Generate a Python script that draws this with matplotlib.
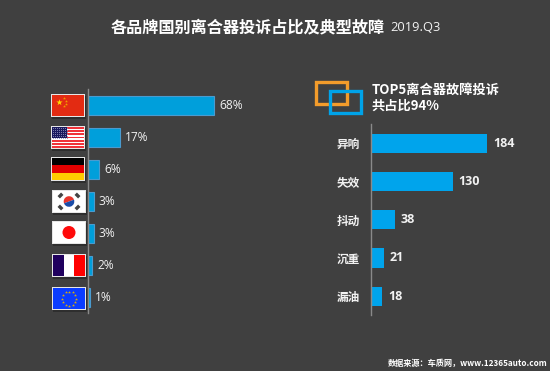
import numpy as np
import matplotlib
matplotlib.use("Agg")
import matplotlib.pyplot as plt
from matplotlib.patches import Rectangle, Circle, Wedge

plt.rcParams["font.family"] = ["Noto Sans CJK SC", "DejaVu Sans"]

W, H = 550, 371
BG = "#404040"
BLUE = "#00A3E9"
ORANGE = "#F39C2B"
LIGHT = "#F2F2F2"
AXIS = "#8A8A8A"

countries = ["China", "USA", "Germany", "Korea", "Japan", "France", "EU"]
shares = [68, 17, 6, 3, 3, 2, 1]
faults = ["异响", "失效", "抖动", "沉重", "漏油"]
fault_counts = [184, 130, 38, 21, 18]


def px_axes(fig, x0, y0, x1, y1):
    # pixel box measured from the top left
    return fig.add_axes([x0 / W, 1 - y1 / H, (x1 - x0) / W, (y1 - y0) / H])


def clean(ax):
    ax.patch.set_alpha(0)
    for s in ("top", "right", "bottom"):
        ax.spines[s].set_visible(False)
    ax.spines["left"].set_color(AXIS)
    ax.spines["left"].set_linewidth(1)
    ax.set_xticks([])
    ax.tick_params(axis="y", length=0)


def flag_china(ax, x, y, w, h):
    ax.add_patch(Rectangle((x, y), w, h, color="#E32B12", lw=0, zorder=3))
    ax.scatter([x + 6.5], [y + 6.5], marker="*", s=22, color="#FFD800", lw=0, zorder=4)
    for dx, dy in [(12, 3), (13.5, 5.5), (13.5, 8.5), (12, 11)]:
        ax.scatter([x + dx], [y + dy], marker="*", s=5, color="#F0A000", lw=0, zorder=4)


def flag_usa(ax, x, y, w, h):
    ax.add_patch(Rectangle((x, y), w, h, color="white", lw=0, zorder=3))
    for i in range(0, 13, 2):
        ax.add_patch(Rectangle((x, y + i * h / 13), w, h / 13, color="#F0333A", lw=0, zorder=4))
    ax.add_patch(Rectangle((x, y), w * 0.48, h * 0.54, color="#1A1A5E", lw=0, zorder=5))
    xs, ys = np.meshgrid(np.arange(x + 1, x + w * 0.48, 2), np.arange(y + 1, y + h * 0.54, 2))
    ax.scatter(xs.ravel(), ys.ravel(), s=0.6, color="#8C8CB8", lw=0, zorder=6)


def flag_germany(ax, x, y, w, h):
    for i, c in enumerate(["black", "#E00000", "#FFCC00"]):
        ax.add_patch(Rectangle((x, y + i * h / 3), w, h / 3, color=c, lw=0, zorder=3))


def flag_korea(ax, x, y, w, h):
    ax.add_patch(Rectangle((x, y), w, h, color="white", lw=0, zorder=3))
    cx, cy = x + w / 2, y + h / 2
    ax.add_patch(Wedge((cx, cy), 5.3, 160, 340, color="#E8342C", lw=0, zorder=4))
    ax.add_patch(Wedge((cx, cy), 5.3, 340, 160, color="#1A4CA8", lw=0, zorder=4))
    for dx, dy in [(-8.5, -6), (8.5, -6), (-8.5, 6), (8.5, 6)]:
        ang = 45 if dx * dy < 0 else -45
        ax.add_patch(Rectangle((cx + dx - 2.5, cy + dy - 1.7), 5, 3.4, color="#444444", lw=0,
                               angle=ang, rotation_point="center", zorder=4))


def flag_japan(ax, x, y, w, h):
    ax.add_patch(Rectangle((x, y), w, h, color="white", lw=0, zorder=3))
    ax.add_patch(Circle((x + w / 2, y + h / 2), 6.5, color="#FF0A0A", lw=0, zorder=4))


def flag_france(ax, x, y, w, h):
    for i, c in enumerate(["#20005E", "white", "#FF0000"]):
        ax.add_patch(Rectangle((x + i * w / 3, y), w / 3, h, color=c, lw=0, zorder=3))


def flag_eu(ax, x, y, w, h):
    ax.add_patch(Rectangle((x, y), w, h, color="#0A3CFF", lw=0, zorder=3))
    a = np.arange(12) * np.pi / 6
    ax.scatter(x + w / 2 + 7 * np.cos(a), y + h / 2 + 7 * np.sin(a), marker="*", s=5,
               color="#E0B000", lw=0, zorder=4)


flag_boxes = [(51, 94, 34, 23), (51, 126, 34, 23), (51, 157, 34, 24), (52, 190, 34, 23),
              (52, 221, 34, 23), (52, 254, 34, 23), (52, 287, 34, 23)]
flag_funcs = [flag_china, flag_usa, flag_germany, flag_korea, flag_japan, flag_france, flag_eu]

fig = plt.figure(figsize=(W / 100, H / 100), dpi=100, facecolor=BG)

# left bars: share by country
ax_l = px_axes(fig, 88, 89, 88 + 1.853 * 100, 313)
ax_l.barh(range(len(shares)), shares, height=0.6, color="#009FDB", edgecolor="#4A9BCF", linewidth=0.8)
ax_l.set_xlim(0, 100)
ax_l.set_ylim(6.49, -0.53)
ax_l.set_yticks([])
clean(ax_l)
for i, v in enumerate(shares):
    ax_l.annotate(f"{v}%", (v, i), xytext=(3.8, 0), textcoords="offset points", va="center",
                  ha="left", color=LIGHT, fontsize=8.6, family=["Open Sans", "DejaVu Sans"])

# right bars: top five faults
ax_r = px_axes(fig, 370.5, 124, 370.5 + 0.633 * 250, 315)
ax_r.barh(range(len(faults)), fault_counts, height=0.5, color="#00A4EC")
ax_r.set_xlim(0, 250)
ax_r.set_ylim(4.49, -0.5)
ax_r.set_yticks(range(len(faults)))
ax_r.set_yticklabels(faults, color=LIGHT, fontsize=8.4, fontweight="bold")
ax_r.tick_params(axis="y", pad=7.5)
clean(ax_r)
for i, v in enumerate(fault_counts):
    ax_r.annotate(str(v), (v, i), xytext=(4.3, 0), textcoords="offset points", va="center",
                  ha="left", color=LIGHT, fontsize=9, fontweight="bold",
                  family=["Open Sans", "DejaVu Sans"])

# overlay in pixel coordinates for flags, icon and text
ov = fig.add_axes([0, 0, 1, 1], zorder=5)
ov.set_xlim(0, W)
ov.set_ylim(H, 0)
ov.axis("off")

for box, func in zip(flag_boxes, flag_funcs):
    x, y, w, h = box
    ov.add_patch(Rectangle((x + 1, y + 2), w, h, color="#2E2E2E", lw=0, zorder=1))
    ov.add_patch(Rectangle((x, y), w, h, facecolor="#E6E6E6", edgecolor="none", zorder=2))
    func(ov, x + 1, y + 1, w - 2, h - 2)

ov.add_patch(Rectangle((316, 81.5), 30.5, 22, fill=False, edgecolor=ORANGE, lw=2.4, zorder=3))
ov.add_patch(Rectangle((330, 90.5), 30.5, 22, fill=False, edgecolor=BLUE, lw=2.4, zorder=4))

ov.text(111, 27, "各品牌国别离合器投诉占比及典型故障", color="white", fontsize=11.65,
        fontweight="bold", va="center", ha="left")
ov.text(390, 27.5, "2019.Q3", color=LIGHT, fontsize=9.3, va="center", ha="left",
        family=["Open Sans", "DejaVu Sans"])
ov.text(371.5, 90, "TOP5离合器故障投诉", color="white", fontsize=9.5, fontweight="bold", va="center", ha="left")
ov.text(371.5, 106, "共占比94%", color="white", fontsize=9.5, fontweight="bold", va="center", ha="left")
ov.text(388, 363, "数据来源：车质网，www.12365auto.com", color="white", fontsize=5.9,
        fontweight="bold", va="center", ha="left")

fig.savefig("out.png", dpi=100, facecolor=BG)
plt.close(fig)
